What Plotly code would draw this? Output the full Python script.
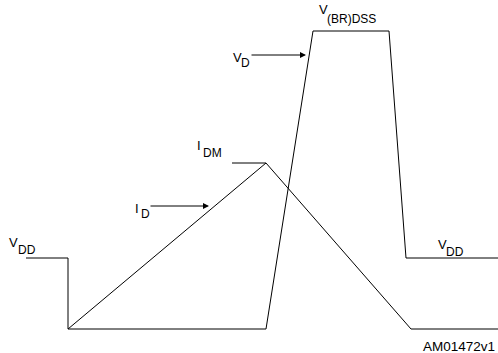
import plotly.graph_objects as go

# Waveform data (time units, level units; level axis points downward)
vd_time = [26, 68, 68, 266, 313, 389, 406, 498]
vd_level = [258, 258, 329, 329, 31, 31, 258, 258]

id_time = [68, 266, 411, 498]
id_level = [329, 163, 329, 329]

idm_time = [232, 266]
idm_level = [163, 163]

# Labels: (main text, sub text, main x, main y, sub x, sub y)
labels = [
    ("V", "(BR)DSS", 318, 9.5, 326, 18.5),
    ("V", "D", 232, 57.5, 240, 63),
    ("I", "DM", 196, 145, 202, 153),
    ("I", "D", 134, 208, 139.5, 214),
    ("V", "DD", 8, 242.5, 17, 250),
    ("V", "DD", 437, 244.5, 445, 252),
]
# Arrows: (tail x, head x, y)
arrows = [(250, 306, 55), (149, 209, 206)]
code_label = "AM01472v1"

FONT = "Liberation Sans, Arial, sans-serif"

fig = go.Figure()
for t, v in [(vd_time, vd_level), (id_time, id_level), (idm_time, idm_level)]:
    fig.add_trace(go.Scatter(x=t, y=v, mode="lines",
                             line=dict(color="black", width=1),
                             hoverinfo="skip", showlegend=False, cliponaxis=False))

ann = []
for main, sub, mx, my, sx, sy in labels:
    ann.append(dict(x=mx, y=my, text=main, showarrow=False, xanchor="left",
                    yanchor="middle", font=dict(family=FONT, size=13, color="black"),
                    borderpad=0))
    ann.append(dict(x=sx, y=sy, text=sub, showarrow=False, xanchor="left",
                    yanchor="middle", font=dict(family=FONT, size=12, color="black"),
                    borderpad=0))
for tx, hx, y in arrows:
    ann.append(dict(x=hx, y=y, ax=tx, ay=y, axref="x", ayref="y", xref="x", yref="y",
                    text="", showarrow=True, arrowhead=2, arrowsize=1.2,
                    arrowwidth=1, arrowcolor="black", standoff=0, startstandoff=0))
ann.append(dict(x=496, y=346.5, text=code_label, showarrow=False, xanchor="right",
                yanchor="middle", font=dict(family=FONT, size=13.5, color="black"),
                borderpad=0))

fig.update_layout(
    width=498, height=353,
    margin=dict(l=0, r=0, t=0, b=0),
    paper_bgcolor="white", plot_bgcolor="white",
    xaxis=dict(range=[0, 498], visible=False, fixedrange=True),
    yaxis=dict(range=[353, 0], visible=False, fixedrange=True),
    annotations=ann,
)
fig.write_html(
    "out.html",
    config={"displayModeBar": False},
    post_script="document.body.style.margin='0';document.body.style.overflow='hidden';",
)
